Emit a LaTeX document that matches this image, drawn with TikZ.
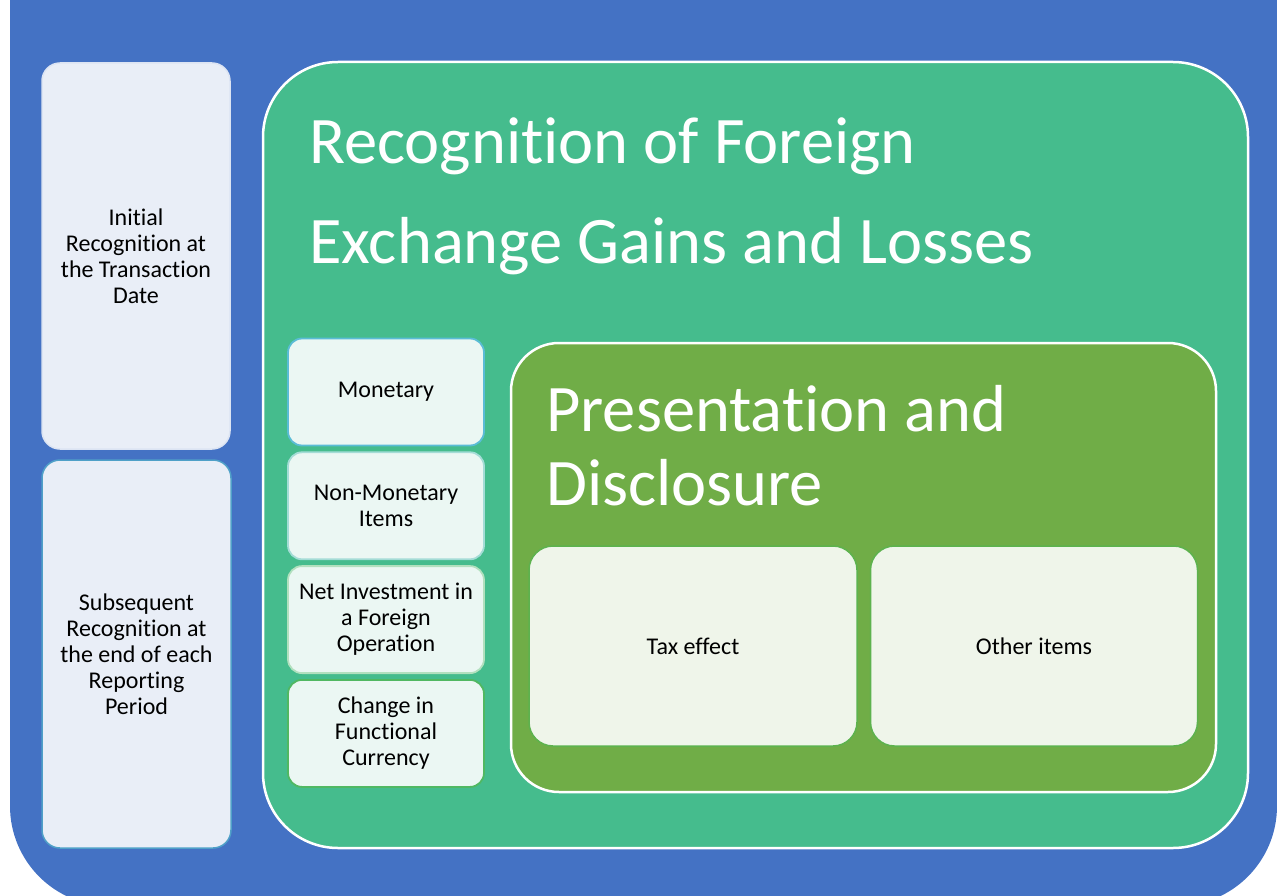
\documentclass[tikz,border=0pt]{standalone}
\usepackage{fontspec}
\setmainfont{Carlito}[Ligatures=NoCommon]
\usepackage{xcolor}
\usetikzlibrary{positioning}
\definecolor{bgblue}{HTML}{4472C4}
\definecolor{sidefill}{HTML}{E9EEF7}
\definecolor{sideedge}{HTML}{4FA0C8}
\definecolor{recgreen}{HTML}{45BC8D}
\definecolor{itemfill}{HTML}{EBF7F3}
\definecolor{edgeone}{HTML}{5ABCD6}
\definecolor{edgetwo}{HTML}{A4DCD6}
\definecolor{edgethree}{HTML}{B2E0BE}
\definecolor{edgefour}{HTML}{50B862}
\definecolor{oliveg}{HTML}{70AD47}
\definecolor{taxfill}{HTML}{EFF5EA}
\definecolor{taxedge}{HTML}{5DB24E}
\tikzset{
  every picture/.style={line join=round, line cap=round},
  sidebox/.style={rectangle, rounded corners=18pt, fill=sidefill, draw=sidefill!92!bgblue,
    line width=1.5pt, align=center, font=\fontsize{24}{26}\selectfont},
  itembox/.style={rectangle, rounded corners=14pt, fill=itemfill, line width=1.8pt,
    minimum width=196pt, minimum height=107pt, align=center, font=\fontsize{24}{26}\selectfont},
  panel/.style={rectangle, draw=white, line width=2.5pt},
  headtext/.style={text=white, align=left, inner sep=0pt},
  taxbox/.style={rectangle, rounded corners=24pt, fill=taxfill, draw=taxedge, line width=1.5pt,
    minimum height=200pt, font=\fontsize{24}{26}\selectfont},
}

\begin{document}
\begin{tikzpicture}[x=1pt,y=-1pt]
\useasboundingbox (0,0) rectangle (1277,896);
\clip (0,0) rectangle (1277,896);
% background
\fill[bgblue, rounded corners=100pt] (10,-120) rectangle (1277,906);
% left column
\node[sidebox, minimum width=188pt, minimum height=386pt] (initial) at (136,256)
  {Initial\\Recognition at\\the Transaction\\Date};
\node[sidebox, draw=sideedge, minimum width=189pt, minimum height=388pt] (subsequent) at (136.5,654)
  {Subsequent\\Recognition at\\the end of each\\Reporting\\Period};
% main panel
\node[panel, fill=recgreen, rounded corners=75pt, minimum width=985pt, minimum height=786pt]
  (recognition) at (755.5,455) {};
\node[headtext, anchor=base west, font=\fontsize{66.5}{100}\selectfont] (rectitle) at (309,263)
  {Recognition of Foreign\\Exchange Gains and Losses};
% items
\node[itembox, draw=edgeone] (monetary) at (386,392) {Monetary};
\node[itembox, draw=edgetwo, below=5pt of monetary] (nonmonetary) {Non-Monetary\\Items};
\node[itembox, draw=edgethree, below=5pt of nonmonetary] (netinvest) {Net Investment in\\a Foreign\\Operation};
\node[itembox, draw=edgefour, below=5pt of netinvest] (change) {Change in\\Functional\\Currency};
% presentation panel
\node[panel, fill=oliveg, rounded corners=48pt, minimum width=705pt, minimum height=449pt]
  (presentation) at (863.5,567.5) {};
\node[headtext, anchor=base west, font=\fontsize{66.5}{74}\selectfont] (pretitle) at (546,505)
  {Presentation and\\Disclosure};
\node[taxbox, minimum width=328pt] (tax) at (693,646) {Tax effect};
\node[taxbox, minimum width=327pt, right=12pt of tax] (other) {Other items};
\end{tikzpicture}
\end{document}
